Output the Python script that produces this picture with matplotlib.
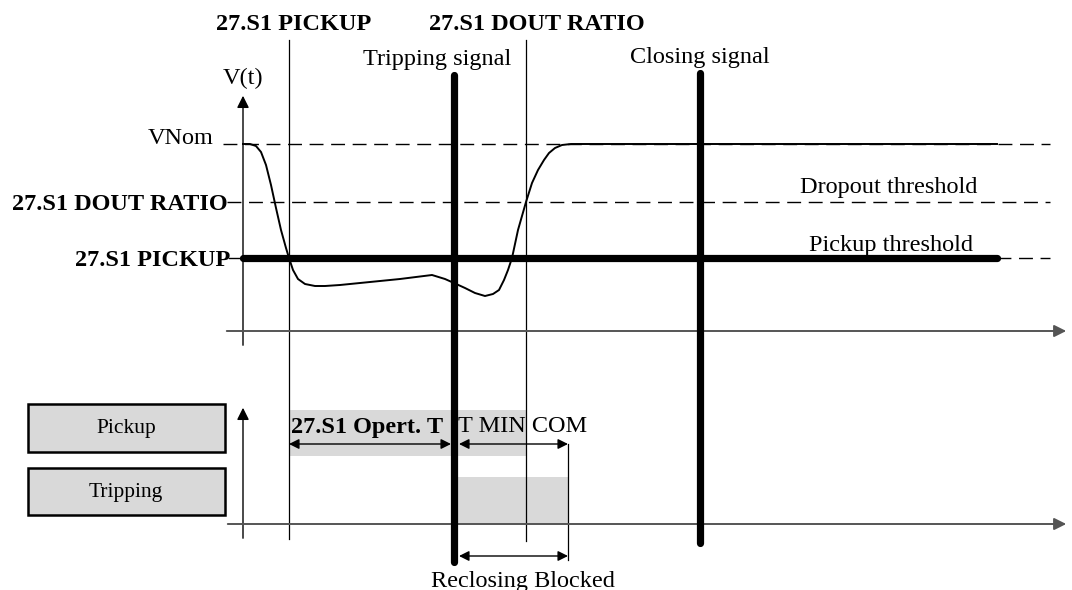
import matplotlib
matplotlib.use('Agg')
from matplotlib import pyplot as plt
from matplotlib.patches import Rectangle
import numpy as np

plt.rcParams['font.family'] = ['Liberation Serif', 'DejaVu Serif']

# voltage curve V(t), picture coordinates (x to the right, y downward)
curve_x = [243, 250, 256, 261, 266, 271, 276, 281, 286, 289, 293, 298, 305, 315, 325, 340,
           370, 400, 432, 445, 454, 465, 475, 485, 493, 499, 504, 508, 512, 518, 526,
           532, 538, 544, 549, 555, 562, 571, 600, 700, 800, 900, 997]
curve_y = [144, 144, 146, 152, 165, 185, 208, 230, 248, 258, 270, 279, 284, 286, 286, 285,
           282, 279, 275, 279, 283, 288, 293, 296, 294, 290, 280, 270, 258, 230, 202,
           183, 170, 160, 153, 148, 145, 144, 144, 144, 144, 144, 144]

# levels
y_vnom = 144
y_dout = 202
y_pickup = 258

# time markers
t_axis = 243
t_pickup = 289
t_trip = 454
t_dout = 526
t_tmin_end = 568
t_close = 700
t_curve_end = 997
t_dash_end = 1050
t_arrow_end = 1069

level_labels = ['VNom', '27.S1 DOUT RATIO', '27.S1 PICKUP']

fig = plt.figure(figsize=(10.72, 5.9), dpi=100)
ax = fig.add_axes([0, 0, 1, 1])
ax.set_xlim(0, 1072)
ax.set_ylim(590, 0)
ax.set_axis_off()

axis_col = '#555555'
fs = 17.5
dash = (0, (10, 5.5))

# axes of the upper diagram
ax.annotate('', xy=(t_axis, 93), xytext=(t_axis, 348),
            arrowprops=dict(arrowstyle='-|>', color='black', lw=1.0, mutation_scale=18))
ax.annotate('', xy=(t_arrow_end, 331), xytext=(224, 331),
            arrowprops=dict(arrowstyle='-|>', color=axis_col, lw=1.4, mutation_scale=18))
ax.text(t_axis, 78, 'V(t)', fontsize=fs, ha='center', va='center')

# axes of the lower diagram
ax.annotate('', xy=(t_axis, 405), xytext=(t_axis, 541),
            arrowprops=dict(arrowstyle='-|>', color='black', lw=1.0, mutation_scale=18))
ax.annotate('', xy=(t_arrow_end, 524), xytext=(225, 524),
            arrowprops=dict(arrowstyle='-|>', color=axis_col, lw=1.4, mutation_scale=18))

# level lines
ax.plot([223, t_dash_end], [y_vnom, y_vnom], ls=dash, color='black', lw=1.0)
ax.plot([227, t_dash_end], [y_dout, y_dout], ls=dash, color='black', lw=1.0)
ax.plot([t_curve_end, t_dash_end], [y_pickup, y_pickup], ls=dash, color='black', lw=1.0)
ax.plot([229, t_axis], [y_pickup, y_pickup], color='black', lw=1.0)
ax.plot([t_axis, t_curve_end], [y_pickup, y_pickup], color='black', lw=5.2, solid_capstyle='round')

ax.text(214, y_vnom - 5, level_labels[0], fontsize=fs, ha='right', va='center')
ax.text(228, y_dout + 2, level_labels[1], fontsize=fs, ha='right', va='center', fontweight='bold')
ax.text(230, y_pickup + 2, level_labels[2], fontsize=fs, ha='right', va='center', fontweight='bold')
ax.text(889, 187, 'Dropout threshold', fontsize=fs, ha='center', va='center')
ax.text(891, 245, 'Pickup threshold', fontsize=fs, ha='center', va='center')

# gray bands in lower diagram
ax.add_patch(Rectangle((t_pickup, 410), t_dout - t_pickup, 46, fc='#d9d9d9', ec='none', zorder=1))
ax.add_patch(Rectangle((t_trip, 477), t_tmin_end - t_trip, 47, fc='#d9d9d9', ec='none', zorder=1))

# legend boxes
ax.add_patch(Rectangle((28, 404), 197, 48, fc='#d9d9d9', ec='black', lw=1.8))
ax.add_patch(Rectangle((28, 468), 197, 47, fc='#d9d9d9', ec='black', lw=1.8))
ax.text(126, 429, 'Pickup', fontsize=15.5, ha='center', va='center')
ax.text(126, 492, 'Tripping', fontsize=15.5, ha='center', va='center')

# thin vertical markers
ax.plot([t_pickup, t_pickup], [40, 539], color='black', lw=0.9, zorder=2)
ax.plot([t_dout, t_dout], [40, 541], color='black', lw=0.9, zorder=2)
ax.plot([t_tmin_end, t_tmin_end], [444, 560], color='black', lw=0.9, zorder=2)

# voltage curve
ax.plot(curve_x, curve_y, color='black', lw=1.4, zorder=3)

# thick signal lines
ax.plot([t_trip, t_trip], [75, 562], color='black', lw=5.2, solid_capstyle='round', zorder=4)
ax.plot([t_close, t_close], [73, 543], color='black', lw=5.2, solid_capstyle='round', zorder=4)
ax.text(437, 59, 'Tripping signal', fontsize=fs, ha='center', va='center')
ax.text(700, 58, 'Closing signal', fontsize=fs, ha='center', va='center')

# top labels
ax.text(294, 24, '27.S1 PICKUP', fontsize=fs, ha='center', va='center', fontweight='bold')
ax.text(537, 24, '27.S1 DOUT RATIO', fontsize=fs, ha='center', va='center', fontweight='bold')

# time intervals
arr = dict(arrowstyle='<|-|>', color='black', lw=1.0, mutation_scale=15, shrinkA=0, shrinkB=0)
ax.annotate('', xy=(t_pickup, 444), xytext=(t_trip - 3, 444), arrowprops=arr, zorder=5)
ax.annotate('', xy=(t_trip + 5, 444), xytext=(t_tmin_end, 444), arrowprops=arr, zorder=5)
ax.annotate('', xy=(t_trip + 5, 556), xytext=(t_tmin_end, 556), arrowprops=arr, zorder=5)
ax.text(291, 427, '27.S1 Opert. T', fontsize=fs, ha='left', va='center', fontweight='bold')
ax.text(458, 427, 'T MIN COM', fontsize=fs, ha='left', va='center')
ax.text(523, 581, 'Reclosing Blocked', fontsize=fs, ha='center', va='center')

fig.savefig('out.png', dpi=100)
